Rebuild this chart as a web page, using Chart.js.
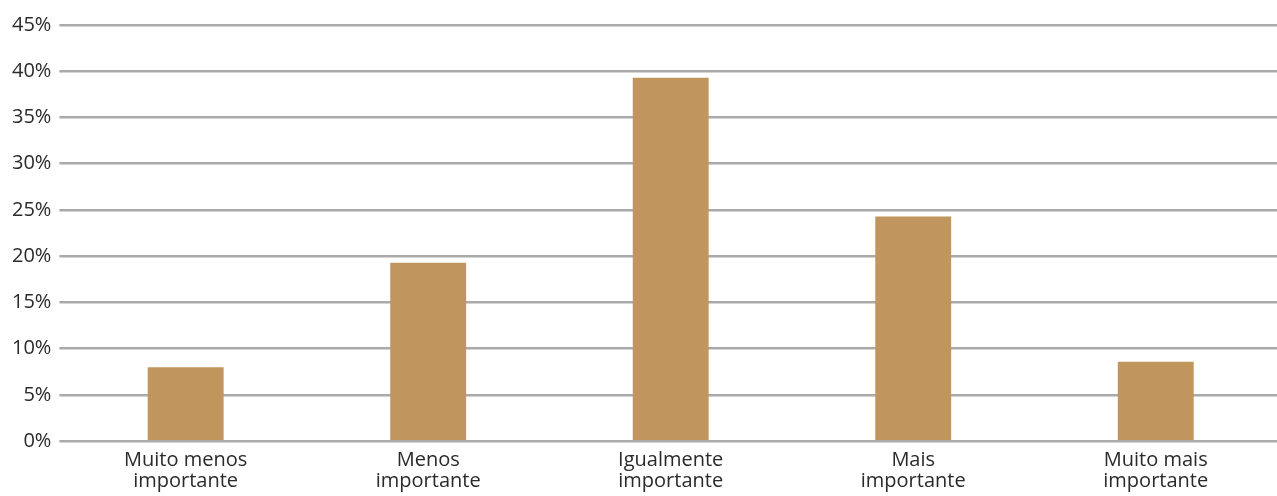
<!DOCTYPE html>
<html>
<head>
<meta charset="utf-8">
<script src="https://cdn.jsdelivr.net/npm/chart.js@4"></script>
<style>
  html, body { margin: 0; padding: 0; background: #ffffff; }
  #wrap { width: 1277px; height: 496px; position: relative; }
</style>
</head>
<body>
<div id="wrap"><canvas id="chart"></canvas></div>
<script>
const categories = [
  ["Muito menos", "importante"],
  ["Menos", "importante"],
  ["Igualmente", "importante"],
  ["Mais", "importante"],
  ["Muito mais", "importante"],
];
const shares = [8.0, 19.3, 39.3, 24.3, 8.6];
const yTicks = [0, 5, 10, 15, 20, 25, 30, 35, 40, 45];

const palette = {
  bar: "#c0965e",
  grid: "#aaaaaa",
  ink: "#2a2a2a",
};

const fontFamily = "'Open Sans', 'Noto Sans', sans-serif";

new Chart(document.getElementById("chart"), {
  type: "bar",
  data: {
    labels: categories,
    datasets: [
      {
        data: shares,
        backgroundColor: palette.bar,
        barPercentage: 0.313,
        categoryPercentage: 1,
      },
    ],
  },
  options: {
    responsive: true,
    maintainAspectRatio: false,
    animation: false,
    layout: { padding: { top: 25, right: 0, left: 4, bottom: -4 } },
    plugins: { legend: { display: false }, tooltip: { enabled: false } },
    scales: {
      x: {
        grid: { display: false, drawTicks: false },
        border: { display: false },
        ticks: {
          color: palette.ink,
          font: { family: fontFamily, size: 20, lineHeight: 1.07 },
          padding: 8,
          maxRotation: 0,
          autoSkip: false,
        },
      },
      y: {
        min: 0,
        max: 45,
        afterBuildTicks(axis) {
          axis.ticks = yTicks.map((value) => ({ value }));
        },
        grid: {
          color: palette.grid,
          lineWidth: 2.5,
          drawTicks: true,
          tickLength: 5,
        },
        border: { display: false },
        ticks: {
          color: palette.ink,
          font: { family: fontFamily, size: 20 },
          padding: 8,
          callback: (value) => `${value}%`,
        },
      },
    },
  },
});
</script>
</body>
</html>
